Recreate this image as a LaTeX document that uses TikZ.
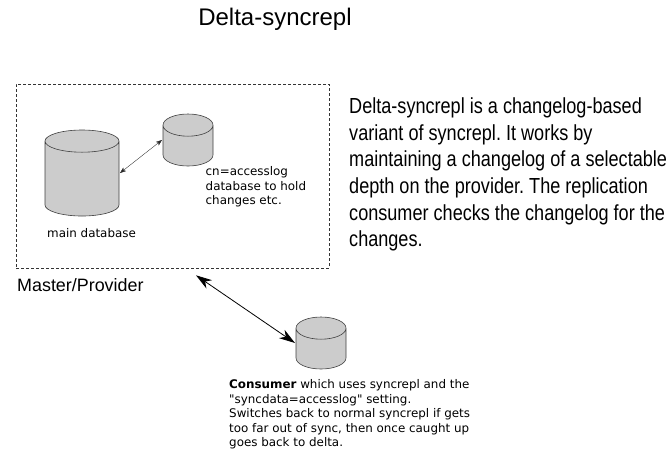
\documentclass[tikz,border=0pt]{standalone}
\usepackage{fontspec}
\setmainfont{Liberation Sans}
\newfontfamily\smallfont{DejaVu Sans}
\newfontfamily\narrowfont[FakeStretch=0.83]{Liberation Sans}
\usetikzlibrary{shapes.geometric, arrows.meta, calc}
\frenchspacing
\tikzset{
  dbcyl/.style={cylinder, shape border rotate=90, draw=black!75, fill=black!20, line width=.6pt, inner sep=3pt, outer sep=1pt, shape aspect=#1, anchor=shape center},
  smalltext/.style={font=\smallfont\fontsize{11.9}{14.6}\selectfont, align=left, inner sep=0pt},
  bigtext/.style={font=\narrowfont\fontsize{21.8}{26.6}\selectfont, align=left, inner sep=0pt},
  thinarrow/.style={{Stealth[length=6pt,width=4.5pt,inset=1.5pt]}-{Stealth[length=6pt,width=4.5pt,inset=1.5pt]}, line width=.35pt, draw=black!85},
  widearrow/.style={{Stealth[length=16pt,width=10pt,inset=5pt]}-{Stealth[length=16pt,width=10pt,inset=5pt]}, line width=.8pt}
}
\begin{document}
\begin{tikzpicture}[x=1pt, y=-1pt]
\useasboundingbox (0,0) rectangle (666,451);
\node (title) at (275,19) [inner sep=0pt, font=\fontsize{24}{26}\selectfont] {Delta-syncrepl};
\node (provider) at (172.5,176) [draw=black!80, densely dashed, line width=.6pt, minimum width=313pt, minimum height=184pt, inner sep=0pt] {};
\node (master) [inner sep=0pt, anchor=north west, font=\fontsize{17.9}{20}\selectfont] at (17,278.5) {Master/Provider};

\node (maindb) at (82,173) [dbcyl=3.7, minimum width=74pt, minimum height=86pt] {};
\node (logdb) at (188,140) [dbcyl=3.7, minimum width=50pt, minimum height=52pt] {};
\node (consumerdb) at (321,343) [dbcyl=3.7, minimum width=50pt, minimum height=52pt] {};

\draw[thinarrow] (maindb.shape center -| maindb.east) -- (logdb.shape center -| logdb.west);
\coordinate (gap) at ($(provider.south)+(23.5,7)$);
\draw[widearrow] (gap) -- (consumerdb.shape center -| consumerdb.west);

\node (maintext) at (47,233) [smalltext, anchor=west] {main database};
\node (logtext) at (205.5,187) [smalltext, anchor=west] {cn=accesslog\\database to hold\\changes etc.};
\node (consumertext) at (229,414.5) [smalltext, anchor=west] {\textbf{Consumer} which uses syncrepl and the\\"syncdata=accesslog" setting.\\Switches back to normal syncrepl if gets\\too far out of sync, then once caught up\\goes back to delta.};
\node (about) at (349,174.5) [bigtext, anchor=west] {Delta-syncrepl is a changelog-based\\variant of syncrepl. It works by\\maintaining a changelog of a selectable\\depth on the provider. The replication\\consumer checks the changelog for the\\changes.};
\end{tikzpicture}
\end{document}
